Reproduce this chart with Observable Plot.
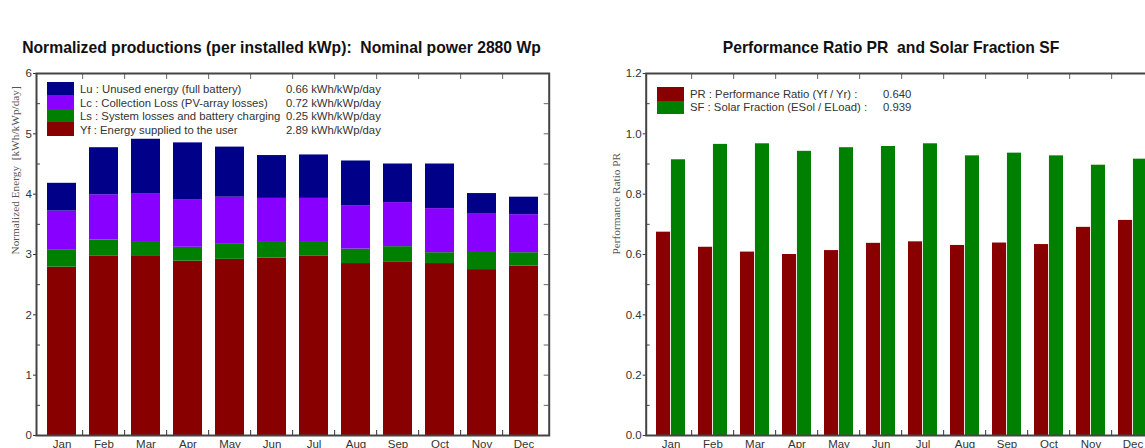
<!DOCTYPE html>
<html><head><meta charset="utf-8">
<script src="https://cdn.jsdelivr.net/npm/d3@7"></script>
<script src="https://cdn.jsdelivr.net/npm/@observablehq/plot@0.6"></script>
<style>
body{margin:0;background:#fff;width:1145px;height:448px;overflow:hidden;position:relative;font-family:"Liberation Sans",Arial,sans-serif;}
.title{position:absolute;top:39px;font-weight:bold;font-size:15.7px;white-space:pre;color:#111;transform:translateX(-50%);line-height:18px}
.chart{position:absolute;top:60px}
.chart svg{max-width:none !important}
.legend{position:absolute;font-size:11.3px;color:#333;}
.legend .sw{position:absolute;left:0;width:27px}
.legend .tx{position:absolute;white-space:pre}
</style></head><body>
<div class="title" style="left:281.5px">Normalized productions (per installed kWp):  Nominal power 2880 Wp</div>
<div class="title" style="left:891px">Performance Ratio PR  and Solar Fraction SF</div>
<div id="c1" class="chart" style="left:0;width:572px"></div>
<div id="c2" class="chart" style="left:572px;width:606px"></div>
<div id="l1" class="legend" style="left:47px;top:81.5px"></div>
<div id="l2" class="legend" style="left:657px;top:87.3px"></div>
<script>
const months = ["Jan","Feb","Mar","Apr","May","Jun","Jul","Aug","Sep","Oct","Nov","Dec"];
// Normalized energy components [kWh/kWp/day]
const Yf = [2.79,2.97,2.98,2.89,2.92,2.94,2.97,2.85,2.87,2.85,2.75,2.81];
const Ls = [0.28,0.27,0.22,0.23,0.26,0.26,0.23,0.24,0.26,0.18,0.30,0.22];
const Lc = [0.65,0.75,0.81,0.79,0.77,0.73,0.73,0.72,0.73,0.73,0.63,0.63];
const Lu = [0.46,0.78,0.90,0.94,0.83,0.71,0.72,0.74,0.64,0.74,0.33,0.29];
// Performance ratio and solar fraction
const PR = [0.674,0.624,0.608,0.600,0.613,0.637,0.642,0.630,0.638,0.633,0.690,0.713];
const SF = [0.914,0.965,0.967,0.942,0.954,0.958,0.967,0.927,0.936,0.927,0.896,0.916];

const energyKeys = ["Yf","Ls","Lc","Lu"];
const energyColors = ["#880000","#008000","#8800ff","#000088"];
const energyLegendKeys = ["Lu","Lc","Ls","Yf"];
const energyLegendLabels = ["Lu : Unused energy (full battery)","Lc : Collection Loss (PV-array losses)","Ls : System losses and battery charging","Yf : Energy supplied to the user"];
const energyLegendValues = ["0.66 kWh/kWp/day","0.72 kWh/kWp/day","0.25 kWh/kWp/day","2.89 kWh/kWp/day"];
const prLegendLabels = ["PR : Performance Ratio (Yf / Yr) :","SF : Solar Fraction (ESol / ELoad) :"];
const prLegendValues = ["0.640","0.939"];
const prColors = ["#880000","#008000"];

const yTicksL = [0,1,2,3,4,5,6];
const yMinorL = [0.5,1.5,2.5,3.5,4.5,5.5];
const yRightL = [0.5,1,1.5,2,2.5,3,3.5,4,4.5,5,5.5];
const yTicksR = [0,0.2,0.4,0.6,0.8,1.0,1.2];
const yMinorR = [0.1,0.3,0.5,0.7,0.9,1.1];
const yRightR = [0.1,0.2,0.3,0.4,0.5,0.6,0.7,0.8,0.9,1.0,1.1];
const yLabelL = "Normalized Energy  [kWh/kWp/day]";
const yLabelR = "Performance Ratio PR";

const H = 388, mT = 13, mB = 13;
const fh = H - mT - mB;
const font = '"Liberation Sans", Arial, sans-serif';
const serif = '"Liberation Serif", "Times New Roman", serif';

function common(fw, step, yMinor, yRight, yTicks, fmt, yLabel, labelDx) {
  return [
    Plot.axisY({ticks: yTicks, tickSize: 3, tickPadding: 1.5, tickFormat: fmt, label: null, stroke: "#333", fontSize: 11.5}),
    Plot.tickY(yMinor, {y: d => d, stroke: "#444", insetRight: fw - 4}),
    Plot.tickY(yRight, {y: d => d, stroke: "#666", insetLeft: fw - 5}),
    Plot.tickX(months.slice(1), {x: d => d, dx: -step / 2, insetBottom: fh - 6, stroke: "#666"}),
    Plot.tickX(months.slice(1), {x: d => d, dx: -step / 2, insetTop: fh - 5, stroke: "#333"}),
    Plot.axisX({tickSize: 0, tickPadding: 4, label: null, fontSize: 11.5}),
    Plot.frame({stroke: "#444", strokeWidth: 2}),
    Plot.text([yLabel], {text: d => d, frameAnchor: "left", rotate: -90, dx: labelDx, fontFamily: serif, fontSize: 11.3, fill: "#555"})
  ];
}
const baseStyle = {fontFamily: font, fontSize: "11.5px", color: "#333", background: "transparent", overflow: "visible", maxWidth: "none"};

// Left chart
const W1 = 572, mL1 = 36, mR1 = 23.3;
const fw1 = W1 - mL1 - mR1, step1 = fw1 / 12;
const stackData = months.flatMap((m, i) => energyKeys.map((k, j) => ({month: m, key: k, value: [Yf, Ls, Lc, Lu][j][i]})));
const p1 = Plot.plot({
  width: W1, height: H, marginTop: mT, marginBottom: mB, marginLeft: mL1, marginRight: mR1,
  style: baseStyle,
  x: {domain: months, paddingInner: 0.3, paddingOuter: 0.15},
  y: {domain: [0, 6]},
  color: {domain: energyKeys, range: energyColors},
  marks: [
    Plot.barY(stackData, Plot.stackY({x: "month", y: "value", fill: "key", order: energyKeys})),
    ...common(fw1, step1, yMinorL, yRightL, yTicksL, d => d, yLabelL, -21)
  ]
});
document.getElementById("c1").appendChild(p1);

// Right chart
const W2 = 606, mL2 = 73.7, mR2 = 20;
const fw2 = W2 - mL2 - mR2, step2 = fw2 / 12, bw2 = step2 * 0.7;
const prData = months.map((m, i) => ({month: m, PR: PR[i], SF: SF[i]}));
const p2 = Plot.plot({
  width: W2, height: H, marginTop: mT, marginBottom: mB, marginLeft: mL2, marginRight: mR2,
  style: baseStyle,
  x: {domain: months, paddingInner: 0.3, paddingOuter: 0.15},
  y: {domain: [0, 1.2]},
  marks: [
    Plot.barY(prData, {x: "month", y: "PR", fill: prColors[0], insetRight: bw2 / 2}),
    Plot.barY(prData, {x: "month", y: "SF", fill: prColors[1], insetLeft: bw2 / 2}),
    ...common(fw2, step2, yMinorR, yRightR, yTicksR, d3.format(".1f"), yLabelR, -30)
  ]
});
document.getElementById("c2").appendChild(p2);

// Legends
function legend(id, colors, labels, values, rowH, valX, textDy) {
  const el = document.getElementById(id);
  labels.forEach((lab, j) => {
    const sw = document.createElement("div");
    sw.className = "sw"; sw.style.top = (j * rowH) + "px"; sw.style.height = rowH + "px"; sw.style.background = colors[j];
    el.appendChild(sw);
    const t = document.createElement("div");
    t.className = "tx"; t.style.left = "33px"; t.style.top = (j * rowH + textDy) + "px"; t.style.lineHeight = rowH + "px"; t.textContent = lab;
    el.appendChild(t);
    const v = document.createElement("div");
    v.className = "tx"; v.style.left = valX + "px"; v.style.top = (j * rowH + textDy) + "px"; v.style.lineHeight = rowH + "px"; v.textContent = values[j];
    el.appendChild(v);
  });
}
legend("l1", energyLegendKeys.map(k => energyColors[energyKeys.indexOf(k)]), energyLegendLabels, energyLegendValues, 13.5, 239, 1.5);
legend("l2", prColors, prLegendLabels, prLegendValues, 13.4, 226, 0.5);
</script>
</body></html>
